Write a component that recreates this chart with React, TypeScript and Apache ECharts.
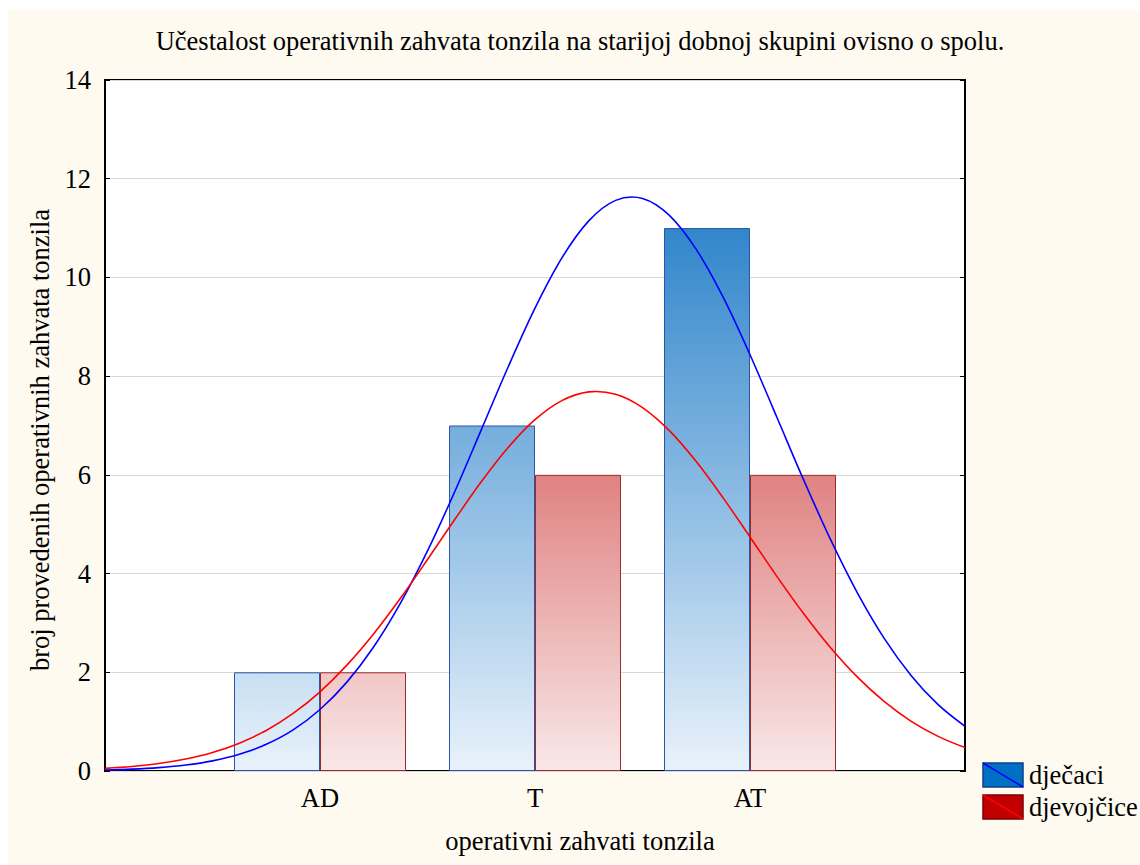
import React, { useEffect, useRef } from "react";
import * as echarts from "echarts";

const categories = ["", "AD", "T", "AT", ""];
const boysCounts = [null, 2, 7, 11, null];
const girlsCounts = [null, 2, 6, 6, null];
const yTicks = [0, 2, 4, 6, 8, 10, 12, 14];

// fitted curve values at x = 0, 0.125, ..., 4 (AD=1, T=2, AT=3)
const curveX = [
  0, 0.125, 0.25, 0.375, 0.5, 0.625, 0.75, 0.875, 1, 1.125, 1.25, 1.375, 1.5, 1.625, 1.75, 1.875,
  2, 2.125, 2.25, 2.375, 2.5, 2.625, 2.75, 2.875, 3, 3.125, 3.25, 3.375, 3.5, 3.625, 3.75, 3.875, 4,
];
const boysCurve = [
  0.02, 0.037, 0.068, 0.12, 0.205, 0.338, 0.54, 0.833, 1.246, 1.801, 2.518, 3.407, 4.458, 5.643, 6.911, 8.185,
  9.378, 10.395, 11.146, 11.561, 11.6, 11.258, 10.569, 9.599, 8.434, 7.167, 5.892, 4.686, 3.604, 2.682, 1.931, 1.345, 0.906,
];
const girlsCurve = [
  0.054, 0.092, 0.151, 0.242, 0.374, 0.563, 0.822, 1.166, 1.605, 2.145, 2.782, 3.504, 4.284, 5.084, 5.859, 6.554,
  7.117, 7.504, 7.681, 7.632, 7.363, 6.895, 6.269, 5.533, 4.742, 3.944, 3.185, 2.497, 1.901, 1.405, 1.007, 0.702, 0.474,
];

const titleText = "Učestalost operativnih zahvata tonzila na starijoj dobnoj skupini ovisno o spolu.";
const xName = "operativni zahvati tonzila";
const yName = "broj provedenih operativnih zahvata tonzila";
const legendNames = ["dječaci", "djevojčice"];

const FONT = "'Liberation Serif', 'Times New Roman', serif";
const FS = 26.5;

function curveSeries(ys: number[], color: string) {
  return {
    type: "custom",
    xAxisIndex: 1,
    yAxisIndex: 0,
    z: 5,
    clip: true,
    silent: true,
    data: curveX.map((x, i) => [x, ys[i]]),
    encode: { x: 0, y: 1 },
    renderItem: (params: any, api: any) => {
      if (params.dataIndex !== 0) return null;
      const pts = curveX.map((x, i) => api.coord([x, ys[i]]));
      return {
        type: "polyline",
        shape: { points: pts, smooth: 0.34 },
        style: { stroke: color, lineWidth: 1.6, fill: null },
      };
    },
  };
}

export default function App() {
  const ref = useRef<HTMLDivElement>(null);
  useEffect(() => {
    if (!ref.current) return;
    const chart = echarts.init(ref.current, null, { renderer: "svg" });
    const G = { left: 97, top: 70, width: 860, height: 691 };
    const y0 = G.top + G.height;
    const yFor = (v: number) => y0 - (v / 14) * G.height;
    const blueGrad = {
      type: "linear", x: 0, y: y0, x2: 0, y2: yFor(11), global: true,
      colorStops: [{ offset: 0, color: "#E9F2FB" }, { offset: 1, color: "#3186CB" }],
    };
    const redGrad = {
      type: "linear", x: 0, y: y0, x2: 0, y2: yFor(6), global: true,
      colorStops: [{ offset: 0, color: "#F9E8E8" }, { offset: 1, color: "#E08282" }],
    };
    const tickIdx = (i: number) => i > 0 && i < categories.length - 1;
    chart.setOption({
      animation: false,
      backgroundColor: "#FEFAF0",
      textStyle: { fontFamily: FONT },
      grid: { ...G, show: true, backgroundColor: "#FFFFFF", borderColor: "#000", borderWidth: 2 },
      xAxis: [
        {
          type: "category", data: categories, boundaryGap: false,
          axisLine: { show: false },
          axisTick: { show: true, inside: true, length: 5, interval: (i: number) => tickIdx(i), lineStyle: { color: "#000", width: 1 } },
          axisLabel: { interval: 0, fontFamily: FONT, fontSize: FS, color: "#000", margin: 13 },
          splitLine: { show: false },
        },
        { type: "value", min: 0, max: 4, show: false },
      ],
      yAxis: [
        {
          type: "value", min: yTicks[0], max: yTicks[yTicks.length - 1], interval: 2,
          axisLine: { show: false },
          axisTick: { show: true, inside: true, length: 5, lineStyle: { color: "#000" } },
          axisLabel: { fontFamily: FONT, fontSize: FS, color: "#000", margin: 14 },
          splitLine: { show: true, lineStyle: { color: "#D9D9D9", width: 1 } },
        },
        {
          type: "value", min: 0, max: 14, interval: 2, position: "right",
          axisLine: { show: false },
          axisTick: { show: true, inside: true, length: 5, lineStyle: { color: "#000" } },
          axisLabel: { show: false },
          splitLine: { show: false },
        },
      ],
      series: [
        {
          name: legendNames[0], type: "bar", data: boysCounts, barWidth: 86, barGap: "0%",
          itemStyle: { color: blueGrad, borderColor: "#2B55A6", borderWidth: 1 },
        },
        {
          name: legendNames[1], type: "bar", data: girlsCounts, barWidth: 86, barGap: "0%",
          itemStyle: { color: redGrad, borderColor: "#9B2B2B", borderWidth: 1 },
        },
        curveSeries(boysCurve, "#0000FF"),
        curveSeries(girlsCurve, "#FF0000"),
      ],
      graphic: [
        { type: "text", x: 572, y: 31, style: { text: titleText, font: `${FS}px ${FONT}`, fill: "#000", textAlign: "center", textVerticalAlign: "middle" } },
        { type: "text", x: 572, y: 831, style: { text: xName, font: `${FS}px ${FONT}`, fill: "#000", textAlign: "center", textVerticalAlign: "middle" } },
        { type: "text", x: 32, y: 430, rotation: Math.PI / 2, style: { text: yName, font: `${FS}px ${FONT}`, fill: "#000", textAlign: "center", textVerticalAlign: "middle" } },
        { type: "rect", shape: { x: 975, y: 753, width: 40, height: 24 }, style: { fill: "#0070C4", stroke: "#0D3E8C", lineWidth: 1.5 } },
        { type: "line", shape: { x1: 975, y1: 753, x2: 1015, y2: 777 }, style: { stroke: "#0000FF", lineWidth: 1.5 } },
        { type: "text", x: 1021, y: 765, style: { text: legendNames[0], font: `${FS}px ${FONT}`, fill: "#000", textAlign: "left", textVerticalAlign: "middle" } },
        { type: "rect", shape: { x: 975, y: 785, width: 40, height: 24 }, style: { fill: "#C00000", stroke: "#7A0000", lineWidth: 1.5 } },
        { type: "line", shape: { x1: 975, y1: 785, x2: 1015, y2: 809 }, style: { stroke: "#FF0000", lineWidth: 1.5 } },
        { type: "text", x: 1021, y: 797, style: { text: legendNames[1], font: `${FS}px ${FONT}`, fill: "#000", textAlign: "left", textVerticalAlign: "middle" } },
      ],
    });
    return () => chart.dispose();
  }, []);
  return (
    <div
      ref={ref}
      style={{ position: "fixed", left: 8, top: 10, width: 1132, height: 855 }}
    />
  );
}
